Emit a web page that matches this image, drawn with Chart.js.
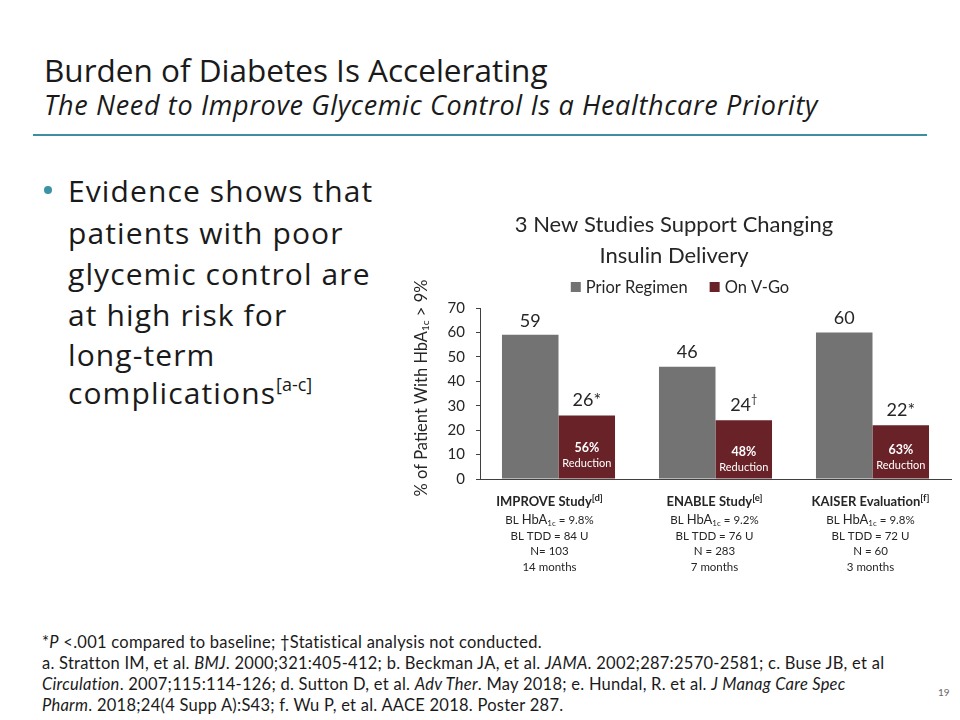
<!DOCTYPE html>
<html>
<head>
<meta charset="utf-8">
<script src="https://cdn.jsdelivr.net/npm/chart.js@4"></script>
<style>
  html, body { margin:0; padding:0; background:#fff; }
  body { width:960px; height:720px; position:relative; overflow:hidden; font-family:"Open Sans", sans-serif; color:#1a1a1a; }
  .abs { position:absolute; white-space:nowrap; line-height:1; }
  #title { left:44px; top:54px; font-size:31.5px; }
  #subtitle { left:44px; top:91px; font-size:27px; font-style:italic; letter-spacing:0.65px; }
  #rule { position:absolute; left:33px; top:134px; width:894px; height:2px; background:#3b8fa1; }
  .bul { left:68px; font-size:30px; letter-spacing:1.1px; }
  #dot { position:absolute; left:44px; top:186px; width:8px; height:8px; border-radius:50%; background:#3b93a6; }
  .fn { left:42px; font-family:"Lato", sans-serif; font-size:16.5px; letter-spacing:0.26px; color:#1a1a1a; }
  #pg { left:938px; top:687px; font-size:10px; color:#666; font-family:"Lato", sans-serif; }
  #wrap { position:absolute; left:400px; top:200px; width:560px; height:400px; }
  sup { font-size:0.6em; vertical-align:0.7em; line-height:0; letter-spacing:0; }
</style>
</head>
<body>
<div id="title" class="abs">Burden of Diabetes Is Accelerating</div>
<div id="subtitle" class="abs">The Need to Improve Glycemic Control Is a Healthcare Priority</div>
<div id="rule"></div>

<div id="dot"></div>
<div class="abs bul" style="top:176px">Evidence shows that</div>
<div class="abs bul" style="top:218px">patients with poor</div>
<div class="abs bul" style="top:259px">glycemic control are</div>
<div class="abs bul" style="top:300px">at high risk for</div>
<div class="abs bul" style="top:340px">long-term</div>
<div class="abs bul" style="top:378px">complications<sup>[a-c]</sup></div>

<div id="wrap"><canvas id="c" width="560" height="400"></canvas></div>

<div class="abs fn" style="top:634px">*<i>P</i> &lt;.001 compared to baseline; †Statistical analysis not conducted.</div>
<div class="abs fn" style="top:655px">a. Stratton IM, et al. <i>BMJ</i>. 2000;321:405-412; b. Beckman JA, et al. <i>JAMA</i>. 2002;287:2570-2581; c. Buse JB, et al</div>
<div class="abs fn" style="top:676px"><i>Circulation</i>. 2007;115:114-126; d. Sutton D, et al. <i>Adv Ther</i>. May 2018; e. Hundal, R. et al. <i>J Manag Care Spec</i></div>
<div class="abs fn" style="top:697px"><i>Pharm</i>. 2018;24(4 Supp A):S43; f. Wu P, et al. AACE 2018. Poster 287.</div>
<div id="pg" class="abs">19</div>

<script>
// ---- data ----
const categories = ['IMPROVE Study', 'ENABLE Study', 'KAISER Evaluation'];
const categoryRefs = ['[d]', '[e]', '[f]'];
const baselineHbA1c = ['9.8%', '9.2%', '9.8%'];
const baselineTDD = ['84 U', '76 U', '72 U'];
const sampleSizes = ['N= 103', 'N = 283', 'N = 60'];
const durations = ['14 months', '7 months', '3 months'];
const seriesNames = ['Prior Regimen', 'On V-Go'];
const priorRegimen = [59, 46, 60];
const onVGo = [26, 24, 22];
const onVGoMarks = ['*', '†', '*'];
const reductions = ['56%', '48%', '63%'];
const yMin = 0, yMax = 70, yStep = 10;
const chartTitle = ['3 New Studies Support Changing', 'Insulin Delivery'];

// ---- styles ----
const GREY = '#737373';
const MAROON = '#692227';
const TXT = '#262626';
const FONT = 'Lato, "Open Sans", sans-serif';
const LABEL_NUDGE = [-9, -1, -2];     // text-box placement offsets of the category captions
const INNER_OFFSET = [31, 27, 29];    // distance of the inner "% Reduction" text above the axis

function drawRuns(ctx, runs, cx, cy) {
  let total = 0;
  runs.forEach(r => { ctx.font = r.font; r.w = ctx.measureText(r.t).width; total += r.w; });
  let x = cx - total / 2;
  ctx.textAlign = 'left';
  ctx.textBaseline = 'middle';
  runs.forEach(r => { ctx.font = r.font; ctx.fillText(r.t, x, cy + (r.dy || 0)); x += r.w; });
}

const decor = {
  id: 'decor',
  afterDraw(chart) {
    const ctx = chart.ctx;
    const xs = chart.scales.x, ys = chart.scales.y;
    ctx.save();
    ctx.fillStyle = TXT;
    // chart title
    ctx.font = '22px ' + FONT;
    ctx.textAlign = 'center'; ctx.textBaseline = 'middle';
    ctx.fillText(chartTitle[0], 274, 25);
    ctx.fillText(chartTitle[1], 274, 56);
    // legend
    ctx.font = '16.5px ' + FONT;
    const items = chart.data.datasets.map(d => ({ label: d.label, color: d.backgroundColor, w: ctx.measureText(d.label).width }));
    const box = 10, gap = 5, sep = 22;
    let tw = items.reduce((s, it) => s + box + gap + it.w, 0) + sep * (items.length - 1);
    let lx = 280 - tw / 2;
    items.forEach(it => {
      ctx.fillStyle = it.color;
      ctx.fillRect(lx, 82, box, box);
      ctx.fillStyle = TXT;
      ctx.textAlign = 'left';
      ctx.fillText(it.label, lx + box + gap, 88);
      lx += box + gap + it.w + sep;
    });
    // y-axis title (rotated)
    ctx.save();
    ctx.translate(22, 188);
    ctx.rotate(-Math.PI / 2);
    drawRuns(ctx, [
      { t: '% of Patient With HbA', font: '16.5px ' + FONT },
      { t: '1c', font: '10px ' + FONT, dy: 4 },
      { t: ' > 9%', font: '16.5px ' + FONT }
    ], 0, 0);
    ctx.restore();
    // bar value labels
    const m0 = chart.getDatasetMeta(0), m1 = chart.getDatasetMeta(1);
    ctx.fillStyle = TXT;
    m0.data.forEach((el, i) => {
      drawRuns(ctx, [{ t: String(priorRegimen[i]), font: '18px ' + FONT }], el.x, el.y - 14);
    });
    m1.data.forEach((el, i) => {
      const mk = onVGoMarks[i];
      if (mk === '†') {
        drawRuns(ctx, [{ t: String(onVGo[i]), font: '18px ' + FONT }, { t: mk, font: '11px ' + FONT, dy: -6 }], el.x, el.y - 15);
      } else {
        drawRuns(ctx, [{ t: String(onVGo[i]) + mk, font: '18px ' + FONT }], el.x, el.y - 15);
      }
      ctx.fillStyle = '#ffffff';
      const base = ys.getPixelForValue(0);
      const off = INNER_OFFSET[i];
      drawRuns(ctx, [{ t: reductions[i], font: 'bold 12.5px ' + FONT }], el.x, base - off);
      drawRuns(ctx, [{ t: 'Reduction', font: '11px ' + FONT }], el.x, base - off + 15);
      ctx.fillStyle = TXT;
    });
    // category labels
    categories.forEach((c, i) => {
      const cx = xs.getPixelForValue(i) + LABEL_NUDGE[i];
      drawRuns(ctx, [{ t: c, font: 'bold 13px ' + FONT }, { t: categoryRefs[i], font: 'bold 9.5px ' + FONT, dy: -4 }], cx, 302);
      drawRuns(ctx, [
        { t: 'BL ', font: '11.5px ' + FONT },
        { t: 'HbA', font: '13px ' + FONT },
        { t: '1c', font: '8px ' + FONT, dy: 3 },
        { t: ' = ' + baselineHbA1c[i], font: '11.5px ' + FONT }
      ], cx, 320);
      drawRuns(ctx, [{ t: 'BL TDD = ' + baselineTDD[i], font: '11.5px ' + FONT }], cx, 336);
      drawRuns(ctx, [{ t: sampleSizes[i], font: '11.5px ' + FONT }], cx, 351);
      drawRuns(ctx, [{ t: durations[i], font: '11.5px ' + FONT }], cx, 367);
    });
    ctx.restore();
  }
};

new Chart(document.getElementById('c'), {
  type: 'bar',
  data: {
    labels: categories,
    datasets: [
      { label: seriesNames[0], data: priorRegimen, backgroundColor: GREY },
      { label: seriesNames[1], data: onVGo, backgroundColor: MAROON }
    ]
  },
  options: {
    responsive: false,
    animation: false,
    devicePixelRatio: 1,
    layout: { padding: { top: 108, right: 9, left: 0, bottom: 0 } },
    categoryPercentage: 0.72,
    barPercentage: 1.0,
    plugins: { legend: { display: false }, title: { display: false }, tooltip: { enabled: false } },
    scales: {
      x: {
        grid: { display: false },
        border: { display: true, color: '#404040', width: 1 },
        ticks: { display: false },
        afterFit(s) { s.height = 121; }
      },
      y: {
        min: yMin, max: yMax,
        ticks: { stepSize: yStep, padding: 11, color: TXT, font: { family: FONT, size: 15 } },
        grid: { drawOnChartArea: false, drawTicks: true, tickLength: 4, color: '#404040' },
        border: { display: true, color: '#404040', width: 1 },
        afterFit(s) { s.width = 80; }
      }
    }
  },
  plugins: [decor]
});
</script>
</body>
</html>
